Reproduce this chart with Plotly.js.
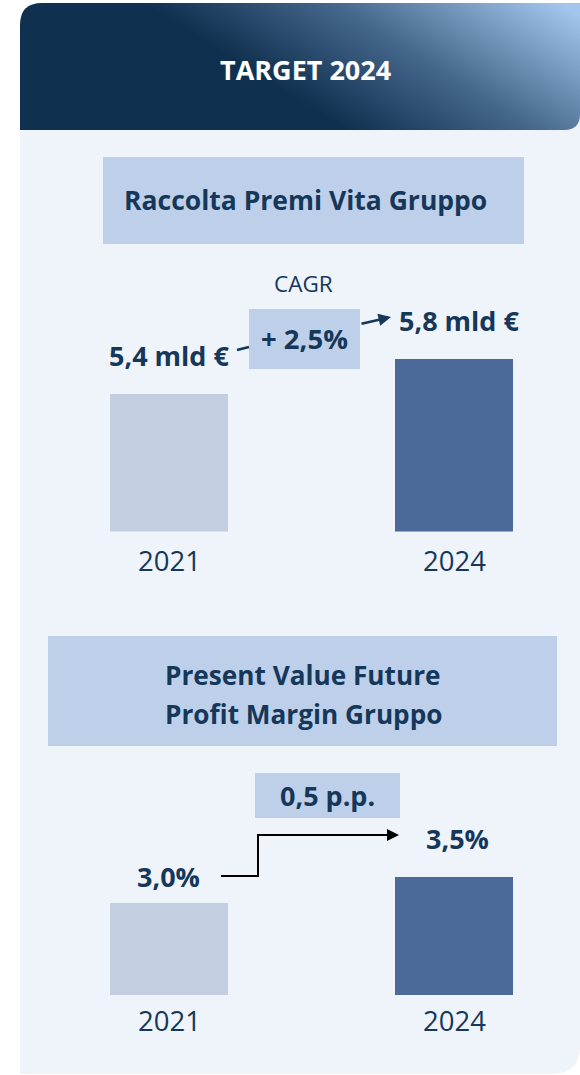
<!DOCTYPE html>
<html><head><meta charset="utf-8">
<script src="https://cdn.plot.ly/plotly-3.0.1.min.js"></script>
<style>html,body{margin:0;padding:0;background:#fff;}#c{width:580px;height:1075px;}</style>
</head><body><div id="c"></div>
<script>
// ---- data ----
const years = ['2021', '2024'];
const premiVita = [5.4, 5.8];            // mld €
const premiLabels = ['5,4 mld €', '5,8 mld €'];
const cagrLabel = '+ 2,5%';
const pvfpMargin = [3.0, 3.5];           // %
const pvfpLabels = ['3,0%', '3,5%'];
const deltaLabel = '0,5 p.p.';
const headerTitle = 'TARGET 2024';
const chartTitles = ['Raccolta Premi Vita Gruppo', 'Present Value Future<br>Profit Margin Gruppo'];

// ---- style ----
const W = 580, H = 1075;
const FONT = '"Open Sans", sans-serif';
const NAVY = '#15375a';
const BOX = '#bed0e9';
const BAR_COLORS = ['#c4cee1', '#4b6a99'];
const px = x => x / W;
const py = y => 1 - y / H;

const svg = `<svg xmlns='http://www.w3.org/2000/svg' width='580' height='1075' viewBox='0 0 580 1075'>
<defs><linearGradient id='g' gradientUnits='userSpaceOnUse' x1='330' y1='120' x2='448' y2='-68'>
<stop offset='0' stop-color='#10304f'/><stop offset='0.45' stop-color='#45678c'/><stop offset='1' stop-color='#a3c6ec'/></linearGradient></defs>
<path d='M20 110 H580 V1046 Q580 1074 552 1074 H20 Z' fill='#eff3fa'/>
<path d='M20 130 V25 Q20 3 42 3 H580 V114 Q580 130 564 130 Z' fill='url(#g)'/>
</svg>`;
const bgImg = 'data:image/svg+xml;charset=utf-8,' + encodeURIComponent(svg);

const xr = [-(169 - 20) / 285, (580 - 169) / 285];
const barW = 118 / 285;

const traces = [
  {type: 'bar', x: years, y: premiVita, xaxis: 'x', yaxis: 'y', width: barW,
   marker: {color: BAR_COLORS}, hoverinfo: 'skip'},
  {type: 'bar', x: years, y: pvfpMargin, xaxis: 'x2', yaxis: 'y2', width: barW,
   marker: {color: BAR_COLORS}, hoverinfo: 'skip'}
];

const hid = {showgrid: false, zeroline: false, showticklabels: false, showline: false, ticks: '', fixedrange: true};

const ann = [];
function txt(text, x, y, size, bold, color) {
  ann.push({text: bold ? '<b>' + text + '</b>' : text, xref: 'paper', yref: 'paper',
    x: px(x), y: py(y), xanchor: 'center', yanchor: 'middle', showarrow: false,
    font: {family: FONT, size: size, color: color || NAVY}});
}
txt(headerTitle, 305, 69, 27, true, '#ffffff');
txt(chartTitles[0], 305, 200, 26.5, true);
chartTitles[1].split('<br>').forEach((line, i) => txt(line, 303, 675 + 39 * i, 26.2, true));
txt('CAGR', 303, 283, 22.5, false);
txt(cagrLabel, 304, 338, 27.5, true);
txt(premiLabels[0], 169, 355, 27, true);
txt(premiLabels[1], 459, 320, 27, true);
txt(deltaLabel, 327, 795, 27, true);
txt(pvfpLabels[0], 168, 876, 27, true);
txt(pvfpLabels[1], 457, 838, 27, true);
// year labels, positioned by category axis (index of category)
years.forEach((yv, i) => {
  ann.push({text: yv, xref: 'x', yref: 'paper', x: i, y: py(560), xanchor: 'center', yanchor: 'middle',
    showarrow: false, font: {family: FONT, size: 27.5, color: NAVY}});
  ann.push({text: yv, xref: 'x2', yref: 'paper', x: i, y: py(1020), xanchor: 'center', yanchor: 'middle',
    showarrow: false, font: {family: FONT, size: 27.5, color: NAVY}});
});
// arrow to 5,8
ann.push({text: '', xref: 'paper', yref: 'paper', x: px(391), y: py(317), ax: -31, ay: 7,
  showarrow: true, arrowhead: 2, arrowsize: 1, arrowwidth: 2.5, arrowcolor: NAVY});
// step arrow to 3,5%
ann.push({text: '', xref: 'paper', yref: 'paper', x: px(399), y: py(835), ax: -141, ay: 0,
  showarrow: true, arrowhead: 2, arrowsize: 1.2, arrowwidth: 2, arrowcolor: '#000000'});

const shapes = [
  {type: 'rect', xref: 'paper', yref: 'paper', x0: px(103), x1: px(524), y0: py(157), y1: py(244),
   fillcolor: BOX, line: {width: 0}, layer: 'below'},
  {type: 'rect', xref: 'paper', yref: 'paper', x0: px(48), x1: px(557), y0: py(636), y1: py(746),
   fillcolor: BOX, line: {width: 0}, layer: 'below'},
  {type: 'rect', xref: 'paper', yref: 'paper', x0: px(249), x1: px(360), y0: py(309), y1: py(369),
   fillcolor: BOX, line: {width: 0}, layer: 'below'},
  {type: 'rect', xref: 'paper', yref: 'paper', x0: px(255), x1: px(400), y0: py(773), y1: py(818),
   fillcolor: BOX, line: {width: 0}, layer: 'below'},
  {type: 'line', xref: 'paper', yref: 'paper', x0: px(237), y0: py(350), x1: px(249), y1: py(347),
   line: {color: NAVY, width: 2.5}},
  {type: 'path', xref: 'paper', yref: 'paper',
   path: `M${px(221)},${py(876)} L${px(258)},${py(876)} L${px(258)},${py(835)} L${px(262)},${py(835)}`,
   line: {color: '#000000', width: 2}}
];

const layout = {
  width: W, height: H, margin: {l: 0, r: 0, t: 0, b: 0},
  paper_bgcolor: '#ffffff', plot_bgcolor: 'rgba(0,0,0,0)', showlegend: false, bargap: 0,
  xaxis: Object.assign({domain: [px(20), 1], range: xr, type: 'category'}, hid),
  yaxis: Object.assign({domain: [py(531.5), py(300)], range: [3.834, 6.48]}, hid),
  xaxis2: Object.assign({domain: [px(20), 1], range: xr, type: 'category', anchor: 'y2'}, hid),
  yaxis2: Object.assign({domain: [py(995), py(850)], range: [1.231, 4.02], anchor: 'x2'}, hid),
  images: [{source: bgImg, xref: 'paper', yref: 'paper', x: 0, y: 1, sizex: 1, sizey: 1,
    xanchor: 'left', yanchor: 'top', sizing: 'stretch', layer: 'below'}],
  shapes: shapes, annotations: ann
};
Plotly.newPlot('c', traces, layout, {staticPlot: true, displayModeBar: false});
</script></body></html>
